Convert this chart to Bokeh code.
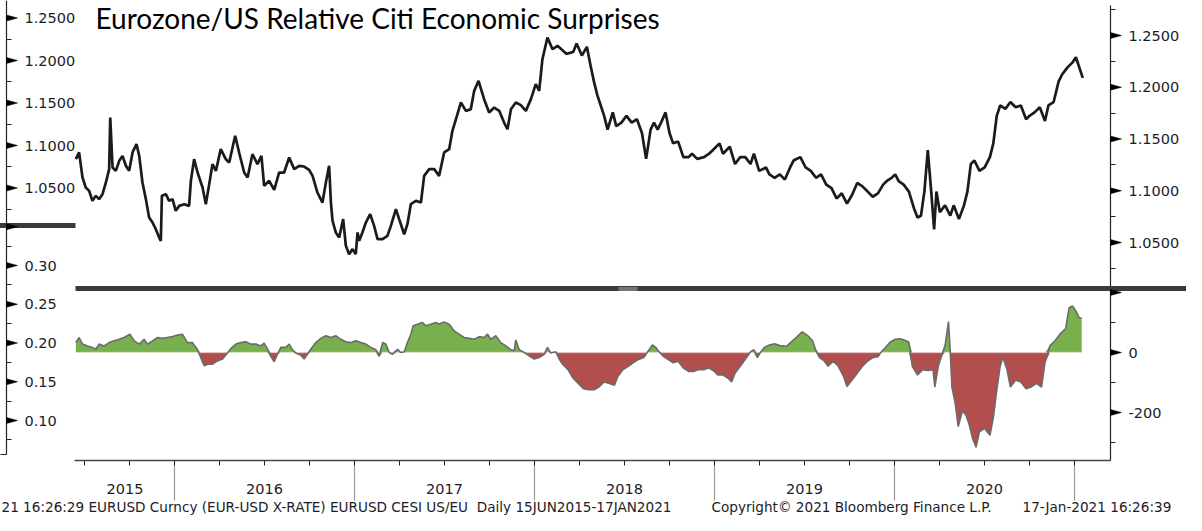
import numpy as np
from bokeh.plotting import figure
from bokeh.models import Range1d, LinearAxis, FixedTicker, PrintfTickFormatter
from bokeh.core.properties import value
from bokeh.embed import file_html
from bokeh.resources import INLINE

# ---------------- data (time in decimal years) ----------------
eur_t = [2015.452, 2015.470, 2015.489, 2015.507, 2015.526, 2015.544, 2015.563, 2015.581, 2015.600, 2015.619,
         2015.637, 2015.643, 2015.656, 2015.674, 2015.693, 2015.711, 2015.730, 2015.748, 2015.767, 2015.789,
         2015.804, 2015.822, 2015.841, 2015.859, 2015.878, 2015.896, 2015.915, 2015.924, 2015.930, 2015.952,
         2015.970, 2015.989, 2016.007, 2016.026, 2016.054, 2016.081, 2016.091, 2016.109, 2016.128, 2016.156,
         2016.174, 2016.193, 2016.211, 2016.230, 2016.257, 2016.285, 2016.304, 2016.337, 2016.359, 2016.387,
         2016.406, 2016.433, 2016.461, 2016.483, 2016.498, 2016.526, 2016.554, 2016.581, 2016.609, 2016.637,
         2016.665, 2016.693, 2016.720, 2016.748, 2016.767, 2016.794, 2016.822, 2016.841, 2016.859, 2016.869,
         2016.878, 2016.896, 2016.915, 2016.937, 2016.952, 2016.970, 2016.989, 2017.007, 2017.017, 2017.026,
         2017.044, 2017.063, 2017.087, 2017.109, 2017.128, 2017.156, 2017.183, 2017.202, 2017.230, 2017.248,
         2017.276, 2017.294, 2017.313, 2017.341, 2017.369, 2017.387, 2017.415, 2017.443, 2017.470, 2017.498,
         2017.526, 2017.544, 2017.572, 2017.591, 2017.619, 2017.646, 2017.665, 2017.689, 2017.720, 2017.748,
         2017.776, 2017.804, 2017.831, 2017.850, 2017.869, 2017.896, 2017.924, 2017.952, 2017.980, 2018.007,
         2018.026, 2018.044, 2018.072, 2018.100, 2018.128, 2018.177, 2018.215, 2018.234, 2018.263, 2018.291,
         2018.310, 2018.330, 2018.349, 2018.368, 2018.387, 2018.406, 2018.435, 2018.454, 2018.483, 2018.511,
         2018.540, 2018.569, 2018.597, 2018.620, 2018.645, 2018.664, 2018.684, 2018.703, 2018.728, 2018.750,
         2018.770, 2018.798, 2018.827, 2018.856, 2018.875, 2018.904, 2018.942, 2018.970, 2018.990, 2019.028,
         2019.047, 2019.085, 2019.114, 2019.143, 2019.171, 2019.200, 2019.219, 2019.248, 2019.286, 2019.305,
         2019.334, 2019.363, 2019.391, 2019.420, 2019.439, 2019.477, 2019.506, 2019.535, 2019.564, 2019.592,
         2019.621, 2019.650, 2019.678, 2019.707, 2019.736, 2019.764, 2019.793, 2019.822, 2019.851, 2019.879,
         2019.908, 2019.937, 2019.956, 2019.984, 2020.004, 2020.023, 2020.051, 2020.080, 2020.109, 2020.128,
         2020.147, 2020.166, 2020.185, 2020.204, 2020.220, 2020.233, 2020.252, 2020.281, 2020.310, 2020.329,
         2020.358, 2020.386, 2020.405, 2020.424, 2020.444, 2020.472, 2020.501, 2020.530, 2020.549, 2020.568,
         2020.587, 2020.616, 2020.644, 2020.673, 2020.702, 2020.731, 2020.750, 2020.778, 2020.807, 2020.836,
         2020.855, 2020.884, 2020.912, 2020.931, 2020.960, 2020.989, 2021.008, 2021.027, 2021.046]
eur_v = [1.1305, 1.1370, 1.1128, 1.1031, 1.0999, 1.0903, 1.0951, 1.0919, 1.0967, 1.1080,
         1.1209, 1.1708, 1.1225, 1.1192, 1.1289, 1.1337, 1.1241, 1.1192, 1.1370, 1.1450,
         1.1337, 1.1080, 1.0919, 1.0742, 1.0693, 1.0629, 1.0548, 1.0516, 1.0951, 1.0967,
         1.0903, 1.0919, 1.0806, 1.0854, 1.0870, 1.0854, 1.1096, 1.1305, 1.1176, 1.1031,
         1.0870, 1.1064, 1.1257, 1.1192, 1.1402, 1.1305, 1.1273, 1.1531, 1.1370, 1.1176,
         1.1128, 1.1353, 1.1257, 1.1337, 1.1047, 1.1096, 1.1009, 1.1176, 1.1176, 1.1321,
         1.1209, 1.1241, 1.1234, 1.1202, 1.1144, 1.0983, 1.0886, 1.1080, 1.1241, 1.0886,
         1.0709, 1.0597, 1.0548, 1.0726, 1.0468, 1.0387, 1.0436, 1.0387, 1.0597, 1.0516,
         1.0597, 1.0693, 1.0774, 1.0661, 1.0532, 1.0532, 1.0564, 1.0661, 1.0822, 1.0726,
         1.0580, 1.0677, 1.0870, 1.0903, 1.0886, 1.1144, 1.1209, 1.1209, 1.1144, 1.1370,
         1.1402, 1.1579, 1.1740, 1.1853, 1.1772, 1.1788, 1.1965, 1.2062, 1.1885, 1.1756,
         1.1804, 1.1772, 1.1659, 1.1595, 1.1788, 1.1853, 1.1827, 1.1772, 1.1885, 1.2030,
         1.1965, 1.2271, 1.2481, 1.2368, 1.2400, 1.2323, 1.2340, 1.2423, 1.2306, 1.2390,
         1.2223, 1.2057, 1.1924, 1.1824, 1.1724, 1.1591, 1.1757, 1.1624, 1.1658, 1.1724,
         1.1658, 1.1691, 1.1558, 1.1308, 1.1591, 1.1658, 1.1591, 1.1658, 1.1757, 1.1558,
         1.1458, 1.1475, 1.1325, 1.1325, 1.1358, 1.1308, 1.1325, 1.1358, 1.1391, 1.1458,
         1.1358, 1.1425, 1.1258, 1.1325, 1.1325, 1.1258, 1.1358, 1.1192, 1.1225, 1.1158,
         1.1125, 1.1158, 1.1108, 1.1225, 1.1292, 1.1325, 1.1225, 1.1192, 1.1125, 1.1158,
         1.1059, 1.1025, 1.0926, 1.0975, 1.0876, 1.0959, 1.1075, 1.1042, 1.0992, 1.0942,
         1.0975, 1.1059, 1.1092, 1.1125, 1.1158, 1.1092, 1.1059, 1.0992, 1.0826, 1.0742,
         1.0759, 1.0992, 1.1392, 1.0992, 1.0626, 1.0992, 1.0793, 1.0859, 1.0759, 1.0859,
         1.0726, 1.0859, 1.0992, 1.1258, 1.1292, 1.1192, 1.1225, 1.1325, 1.1458, 1.1724,
         1.1824, 1.1791, 1.1857, 1.1807, 1.1824, 1.1691, 1.1724, 1.1757, 1.1807, 1.1674,
         1.1824, 1.1857, 1.2057, 1.2123, 1.2190, 1.2240, 1.2290, 1.2190, 1.2090]

cesi_t = [2015.452, 2015.470, 2015.489, 2015.517, 2015.544, 2015.563, 2015.581, 2015.609, 2015.637, 2015.665,
          2015.693, 2015.720, 2015.752, 2015.776, 2015.804, 2015.831, 2015.850, 2015.878, 2015.906, 2015.933,
          2015.961, 2015.989, 2016.017, 2016.044, 2016.072, 2016.100, 2016.128, 2016.146, 2016.165, 2016.183,
          2016.211, 2016.239, 2016.267, 2016.294, 2016.313, 2016.341, 2016.369, 2016.396, 2016.424, 2016.452,
          2016.480, 2016.498, 2016.517, 2016.535, 2016.554, 2016.572, 2016.591, 2016.619, 2016.637, 2016.656,
          2016.674, 2016.702, 2016.720, 2016.739, 2016.757, 2016.785, 2016.813, 2016.841, 2016.869, 2016.896,
          2016.924, 2016.952, 2016.980, 2017.007, 2017.035, 2017.063, 2017.091, 2017.119, 2017.137, 2017.156,
          2017.174, 2017.193, 2017.211, 2017.239, 2017.257, 2017.276, 2017.294, 2017.313, 2017.326, 2017.350,
          2017.378, 2017.396, 2017.424, 2017.452, 2017.470, 2017.498, 2017.526, 2017.554, 2017.581, 2017.609,
          2017.637, 2017.665, 2017.693, 2017.720, 2017.739, 2017.757, 2017.785, 2017.813, 2017.841, 2017.869,
          2017.887, 2017.896, 2017.915, 2017.943, 2017.970, 2017.998, 2018.026, 2018.054, 2018.072, 2018.091,
          2018.100, 2018.119, 2018.138, 2018.157, 2018.186, 2018.215, 2018.243, 2018.272, 2018.301, 2018.330,
          2018.358, 2018.387, 2018.416, 2018.444, 2018.463, 2018.492, 2018.521, 2018.550, 2018.578, 2018.607,
          2018.626, 2018.655, 2018.674, 2018.693, 2018.712, 2018.741, 2018.770, 2018.798, 2018.827, 2018.856,
          2018.884, 2018.913, 2018.942, 2018.970, 2018.999, 2019.018, 2019.047, 2019.076, 2019.095, 2019.114,
          2019.143, 2019.171, 2019.200, 2019.219, 2019.238, 2019.257, 2019.277, 2019.305, 2019.334, 2019.363,
          2019.401, 2019.430, 2019.458, 2019.487, 2019.516, 2019.544, 2019.564, 2019.583, 2019.611, 2019.631,
          2019.659, 2019.688, 2019.717, 2019.736, 2019.764, 2019.793, 2019.822, 2019.851, 2019.879, 2019.908,
          2019.927, 2019.946, 2019.975, 2020.004, 2020.032, 2020.061, 2020.080, 2020.099, 2020.128, 2020.157,
          2020.185, 2020.214, 2020.224, 2020.243, 2020.262, 2020.281, 2020.300, 2020.310, 2020.319, 2020.338,
          2020.354, 2020.377, 2020.396, 2020.415, 2020.434, 2020.453, 2020.472, 2020.501, 2020.530, 2020.549,
          2020.568, 2020.587, 2020.602, 2020.625, 2020.644, 2020.673, 2020.702, 2020.731, 2020.759, 2020.788,
          2020.817, 2020.836, 2020.864, 2020.893, 2020.922, 2020.951, 2020.970, 2020.989, 2021.008, 2021.027,
          2021.040]
cesi_v = [33, 50, 28, 22, 17, 11, 28, 22, 33, 39,
          44, 50, 61, 39, 28, 44, 28, 39, 50, 47,
          50, 53, 58, 61, 33, 33, 9, -17, -44, -39,
          -39, -28, -22, -2, 13, 28, 33, 36, 28, 28,
          22, 31, 11, -13, -31, -6, 17, 17, 28, 9,
          -2, -9, -22, -6, 11, 33, 47, 56, 50, 56,
          44, 36, 33, 39, 33, 28, 17, 9, -13, 33,
          28, 0, -6, 11, 0, 2, 33, 61, 89, 94,
          100, 89, 94, 100, 94, 102, 94, 72, 61, 50,
          47, 44, 53, 50, 61, 44, 56, 33, 22, 9,
          6, 42, 9, 0, -11, -22, -17, -6, 17, -2,
          0, 2, -23, -40, -57, -86, -103, -121, -124, -124,
          -115, -98, -103, -109, -80, -57, -46, -34, -23, -17,
          0, 25, 17, 2, -11, -23, -34, -29, -52, -63,
          -63, -57, -57, -52, -63, -75, -75, -86, -98, -69,
          -46, -23, 2, 9, -17, 2, 17, 25, 29, 23,
          21, 37, 52, 69, 57, 40, 6, -17, -29, -46,
          -29, -46, -80, -113, -92, -69, -46, -29, -17, -14,
          2, 14, 34, 44, 46, 40, 34, -46, -75, -57,
          -60, -57, -115, -46, -11, 23, 103, 0, -115, -172,
          -247, -195, -207, -241, -287, -316, -264, -253, -276, -218,
          -126, -46, -17, -57, -115, -92, -98, -121, -115, -103,
          -115, -34, 23, 40, 63, 80, 149, 155, 138, 115,
          115]

eur_ticks = [1.05, 1.10, 1.15, 1.20, 1.25]
eur_minor = [1.025, 1.075, 1.125, 1.175, 1.225, 1.275]
cesi_ticks = [-200, 0]
cesi_wedges = [-200, 0, 200]
cesi_minor = [-300, -100, 100]
lu_ticks = [1.05, 1.10, 1.15, 1.20, 1.25]
lu_minor = [1.025, 1.075, 1.125, 1.175, 1.225]
ll_ticks = [0.10, 0.15, 0.20, 0.25, 0.30]
ll_wedges = [0.10, 0.15, 0.20, 0.25, 0.30, 0.35]
ll_minor = [0.075, 0.125, 0.175, 0.225, 0.275, 0.325]
year_labels = ["2015", "2016", "2017", "2018", "2019", "2020"]
year_label_pos = [2015.725, 2016.5, 2017.5, 2018.5, 2019.5, 2020.5]
year_bounds = [2016, 2017, 2018, 2019, 2020, 2021]
quarters = [2015.5, 2015.75, 2016.0, 2016.25, 2016.5, 2016.75, 2017.0, 2017.25, 2017.5, 2017.75,
            2018.0, 2018.25, 2018.5, 2018.75, 2019.0, 2019.25, 2019.5, 2019.75, 2020.0, 2020.25,
            2020.5, 2020.75, 2021.0]

title_text = "Eurozone/US Relative Citi Economic Surprises"
footer_left = "21 16:26:29 EURUSD Curncy (EUR-USD X-RATE) EURUSD CESI US/EU\u00a0 Daily 15JUN2015-17JAN2021"
footer_mid = "Copyright\u00a9 2021 Bloomberg Finance L.P."
footer_right = "17-Jan-2021 16:26:39"

# ---------------- geometry (reference pixel layout) ----------------
W, H = 1186, 515
OX, OY = 8, 8

def xd(px):
    return 2016 + (px - 182) / 180.0

def eur_y(px):
    return 1.25 - (px - 43) / 1035.0

def cesi_y(px):
    return (360 - px) / 0.3

def lu_y(px):
    return 1.25 - (px - 25.5) / 850.0

def ll_y(px):
    return 0.30 - (px - 273) / 775.0

p = figure(width=W, height=H,
           x_range=Range1d(xd(OX), xd(OX + W)),
           y_range=Range1d(eur_y(OY + H), eur_y(OY)),
           output_backend="svg", toolbar_location=None,
           x_axis_location=None, y_axis_location=None,
           min_border=0, outline_line_color=None,
           background_fill_color="white", border_fill_color="white")
p.extra_y_ranges = {
    "cesi": Range1d(cesi_y(OY + H), cesi_y(OY)),
    "lu": Range1d(lu_y(OY + H), lu_y(OY)),
    "ll": Range1d(ll_y(OY + H), ll_y(OY)),
}
for g in p.grid:
    g.visible = False

TICK_FONT = "DejaVu Sans"
TXT = "#1c1c28"

# ---------------- CESI areas ----------------
cv = np.array(cesi_v, dtype=float)
p.varea(x=cesi_t, y1=np.zeros_like(cv), y2=np.maximum(cv, 0), y_range_name="cesi",
        fill_color="#77b04d")
p.varea(x=cesi_t, y1=np.minimum(cv, 0), y2=np.zeros_like(cv), y_range_name="cesi",
        fill_color="#b24e4e")
p.line(x=[cesi_t[0], cesi_t[-1]], y=[0, 0], y_range_name="cesi",
       line_color="white", line_alpha=0.35, line_width=1.5)
p.line(x=cesi_t, y=cesi_v, y_range_name="cesi", line_color="#6b6b6b", line_width=1.6)

# ---------------- EURUSD ----------------
p.line(x=eur_t, y=eur_v, line_color="#1b1b1b", line_width=2.7, line_join="bevel")

# ---------------- separator bars ----------------
p.segment(x0=[xd(83)], y0=[eur_y(296)], x1=[xd(1202)], y1=[eur_y(296)],
          line_color="#3a3a3a", line_width=5, level="overlay")
p.segment(x0=[xd(626), xd(626)], y0=[eur_y(295.5), eur_y(297.5)],
          x1=[xd(645), xd(645)], y1=[eur_y(295.5), eur_y(297.5)],
          line_color="#b0b0b0", line_width=1, level="overlay")
p.segment(x0=[xd(0)], y0=[eur_y(233)], x1=[xd(83)], y1=[eur_y(233)],
          line_color="#3a3a3a", line_width=5, level="overlay")
p.segment(x0=[xd(0)], y0=[eur_y(462)], x1=[xd(14)], y1=[eur_y(462)],
          line_color="#222222", line_width=1.2)

# ---------------- wedge tick markers ----------------
def wedges(x_px, ticks, px_per_unit, rname):
    xs, ys = [], []
    h = 3.0 / px_per_unit
    for t in ticks:
        xs.append([xd(x_px), xd(x_px), xd(x_px + 11)])
        ys.append([t + h, t - h, t])
    p.patches(xs=xs, ys=ys, y_range_name=rname, fill_color="black",
              line_color="black", line_width=0.5, level="overlay")

wedges(1118, eur_ticks, 1035.0, "default")
wedges(1118, cesi_wedges, 0.3, "cesi")
wedges(14, lu_ticks, 850.0, "lu")
wedges(14, ll_wedges, 775.0, "ll")

# ---------------- axes ----------------
def y_axis(rname, x_px, ticks, minor, fmt, bounds=None, line=True):
    ax = LinearAxis(y_range_name=rname, fixed_location=xd(x_px),
                    ticker=FixedTicker(ticks=ticks, minor_ticks=minor))
    if fmt:
        ax.formatter = PrintfTickFormatter(format=fmt)
    if bounds is not None:
        ax.bounds = bounds
    ax.major_tick_in = 0
    ax.major_tick_out = 0
    ax.minor_tick_in = 0
    ax.minor_tick_out = 5
    ax.minor_tick_line_color = "#222222"
    ax.minor_tick_line_width = 1
    ax.axis_line_color = "#222222" if line else None
    ax.axis_line_width = 1.2
    ax.major_label_standoff = 13
    ax.major_label_text_font = TICK_FONT
    ax.major_label_text_font_size = "14.5px"
    ax.major_label_text_color = TXT
    p.add_layout(ax, "right")
    return ax

y_axis("default", 1118, eur_ticks, eur_minor, "%.4f", bounds=(eur_y(468), eur_y(13)))
y_axis("cesi", 1118, cesi_ticks, cesi_minor, "%d", line=False)
y_axis("lu", 14, lu_ticks, lu_minor, "%.4f", bounds=(lu_y(462), lu_y(OY)))
y_axis("ll", 14, ll_ticks, ll_minor, "%.2f", line=False)

# year separators
sep = LinearAxis(fixed_location=eur_y(468),
                 ticker=FixedTicker(ticks=year_bounds, minor_ticks=[]))
sep.axis_line_color = None
sep.major_tick_in = 0
sep.major_tick_out = 40
sep.major_tick_line_color = "#9a9a9a"
sep.major_tick_line_width = 1.2
sep.major_label_text_color = None
sep.minor_tick_line_color = None
p.add_layout(sep, "below")

# x axis with quarter ticks and year labels
xa = LinearAxis(fixed_location=eur_y(468), bounds=(xd(82), xd(1118)),
                ticker=FixedTicker(ticks=year_label_pos, minor_ticks=quarters))
xa.major_label_overrides = {pos: lab for pos, lab in zip(year_label_pos, year_labels)}
xa.axis_line_color = "#444444"
xa.axis_line_width = 1.5
xa.major_tick_in = 0
xa.major_tick_out = 0
xa.minor_tick_in = 0
xa.minor_tick_out = 5
xa.minor_tick_line_color = "#222222"
xa.major_label_standoff = 18
xa.major_label_text_font = TICK_FONT
xa.major_label_text_font_size = "14.5px"
xa.major_label_text_color = TXT
p.add_layout(xa, "below")

# ---------------- texts ----------------
p.text(x=[xd(103)], y=[eur_y(25)], text=[title_text], text_font=value("Lato"),
       text_font_size="28px", text_baseline="middle", text_align="left", text_color="black")
p.text(x=[xd(9), xd(719), xd(1030)], y=[eur_y(514)] * 3,
       text=[footer_left, footer_mid, footer_right], text_font=value(TICK_FONT),
       text_font_size="13.6px", text_baseline="middle", text_align="left", text_color=TXT)

open("out.html", "w").write(file_html(p, INLINE))
